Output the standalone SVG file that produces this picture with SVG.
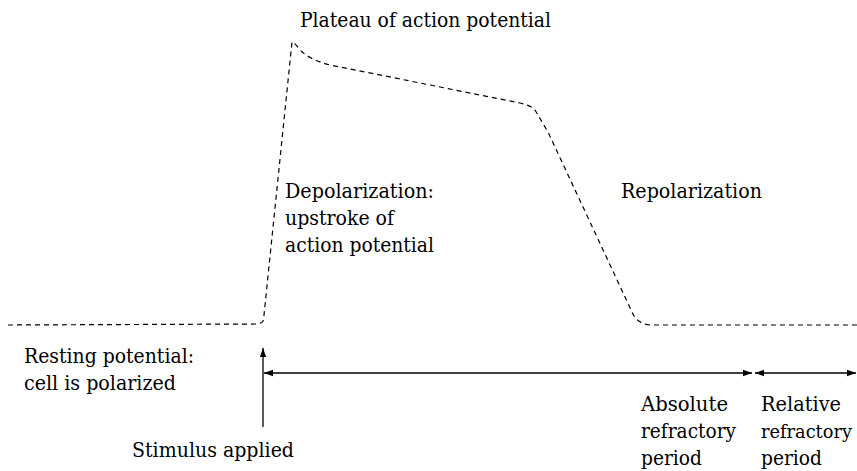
<svg xmlns="http://www.w3.org/2000/svg" width="857" height="471" viewBox="0 0 857 471">
<style>
.t{font-family:'DejaVu Serif','Liberation Serif',serif;font-size:20px;fill:#000}
.dash{fill:none;stroke:#000;stroke-width:1.2;stroke-dasharray:5 4}
.ln{fill:none;stroke:#000;stroke-width:1.3}
</style>
<defs>
<marker id="ah" viewBox="0 0 10 10" refX="10" refY="5" markerWidth="9" markerHeight="9" markerUnits="userSpaceOnUse" orient="auto-start-reverse">
<path d="M0,1.5 L10,5 L0,8.5 Z" fill="#000"/>
</marker>
</defs>
<g id="connectors">
<path class="dash" d="M8,325 L258,324 Q263,323 263.5,320 L292,42 Q296,44 300,50 Q310,60 330,65 L520,103 Q530,105 535,110 L548,132 L632,312 Q637,324 650,325 L857,325"/>
<line class="ln" x1="263" y1="427" x2="263" y2="348" marker-end="url(#ah)"/>
<line class="ln" x1="264" y1="373" x2="752" y2="373" marker-start="url(#ah)" marker-end="url(#ah)"/>
<line class="ln" x1="755" y1="373" x2="856" y2="373" marker-start="url(#ah)" marker-end="url(#ah)"/>
</g>
<g class="t">
<g id="plateau"><text x="300" y="27" textLength="251" lengthAdjust="spacingAndGlyphs">Plateau of action potential</text></g>
<g id="depol"><text x="285" y="198" textLength="149" lengthAdjust="spacingAndGlyphs">Depolarization:</text><text x="285" y="225" textLength="109" lengthAdjust="spacingAndGlyphs">upstroke of</text><text x="285" y="252" textLength="149" lengthAdjust="spacingAndGlyphs">action potential</text></g>
<g id="repol"><text x="621" y="198" textLength="141" lengthAdjust="spacingAndGlyphs">Repolarization</text></g>
<g id="resting"><text x="24" y="363" textLength="170" lengthAdjust="spacingAndGlyphs">Resting potential:</text><text x="24" y="390" textLength="152" lengthAdjust="spacingAndGlyphs">cell is polarized</text></g>
<g id="stimulus"><text x="132" y="457" textLength="162" lengthAdjust="spacingAndGlyphs">Stimulus applied</text></g>
<g id="absolute"><text x="641" y="411" textLength="87" lengthAdjust="spacingAndGlyphs">Absolute</text><text x="641" y="438" textLength="95" lengthAdjust="spacingAndGlyphs">refractory</text><text x="641" y="465" textLength="61" lengthAdjust="spacingAndGlyphs">period</text></g>
<g id="relative"><text x="761" y="411" textLength="80" lengthAdjust="spacingAndGlyphs">Relative</text><text x="761" y="438" style="font-size:18px" textLength="91" lengthAdjust="spacingAndGlyphs">refractory</text><text x="761" y="465" textLength="61" lengthAdjust="spacingAndGlyphs">period</text></g>
</g>
</svg>
